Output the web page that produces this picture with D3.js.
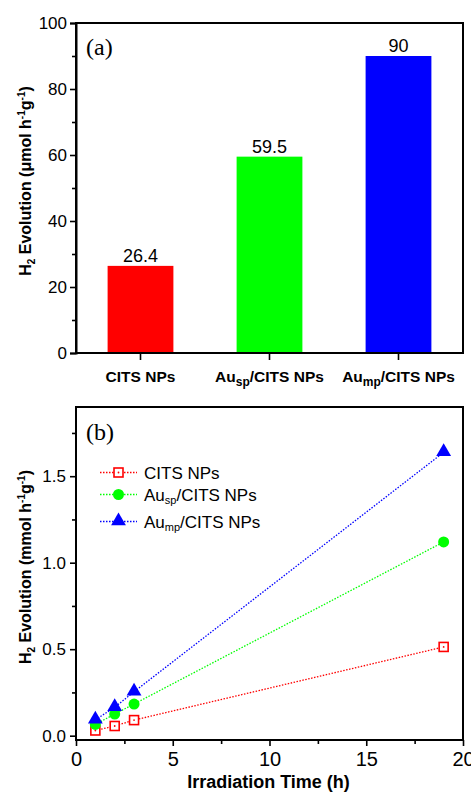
<!DOCTYPE html>
<html>
<head>
<meta charset="utf-8">
<title>H2 evolution</title>
<script src="https://cdn.jsdelivr.net/npm/d3@7"></script>
<style>
  body { margin: 0; background: #fff; }
  text { font-family: Arial, "Liberation Sans", sans-serif; fill: #000; }
  .domain { stroke: #000; stroke-width: 2px; }
  .tick line { stroke: #000; stroke-width: 1.6px; }
</style>
</head>
<body>
<script>
// ---- data ----
var categories = ["CITS NPs", "Au_sp/CITS NPs", "Au_mp/CITS NPs"];
var rates = [26.4, 59.5, 90];
var barColors = ["#ff0000", "#00ff00", "#0000ff"];

var times = [1, 2, 3, 19];
var citsVals = [0.03, 0.056, 0.09, 0.513];
var auSpVals = [0.065, 0.125, 0.183, 1.12];
var auMpVals = [0.092, 0.164, 0.254, 1.638];
var seriesNames = ["CITS NPs", "Au_sp/CITS NPs", "Au_mp/CITS NPs"];

var yTicksA = [0, 20, 40, 60, 80, 100];
var yMinorA = [10, 30, 50, 70, 90];
var xTicksB = [0, 5, 10, 15, 20];
var xMinorB = [2.5, 7.5, 12.5, 17.5];
var yTicksB = [0, 0.5, 1.0, 1.5];
var yMinorB = [0.25, 0.75, 1.25, 1.75];

var W = 471, H = 792;
var svg = d3.select("body").append("svg").attr("width", W).attr("height", H);

// writes "Au_sp/CITS NPs" style labels with a subscript part
function richLabel(sel, str, subSize) {
  var parts = str.split("_");
  if (parts.length == 1) { sel.text(str); return; }
  var m = parts[1].match(/^([a-z]+)(.*)$/);
  sel.append("tspan").text(parts[0]);
  sel.append("tspan").text(m[1]).style("font-size", subSize).attr("baseline-shift", "-30%");
  sel.append("tspan").text(m[2]);
}

// y title with H2 and h-1 g-1
function yTitle(g, x, y, unit) {
  var t = g.append("text")
    .attr("transform", "translate(" + x + "," + y + ") rotate(-90)")
    .attr("text-anchor", "middle")
    .style("font-size", "16px").style("font-weight", "bold");
  t.append("tspan").text("H");
  t.append("tspan").text("2").style("font-size", "10px").attr("baseline-shift", "-35%");
  t.append("tspan").text(" Evolution (" + unit + " h");
  t.append("tspan").text("-1").style("font-size", "10px").attr("baseline-shift", "60%");
  t.append("tspan").text("g");
  t.append("tspan").text("-1").style("font-size", "10px").attr("baseline-shift", "60%");
  t.append("tspan").text(")");
}

// ================= panel (a) =================
var a = { left: 76, right: 463, top: 23, bottom: 353 };

var xA = d3.scaleBand().domain(categories).range([a.left, a.right]).paddingInner(0.49).paddingOuter(0.245);
var yA = d3.scaleLinear().domain([0, 100]).range([a.bottom, a.top]);

svg.selectAll(".barA")
  .data(categories)
  .enter().append("rect")
  .attr("class", "barA")
  .attr("x", function (d) { return xA(d); })
  .attr("width", xA.bandwidth())
  .attr("y", function (d, i) { return yA(rates[i]); })
  .attr("height", function (d, i) { return yA(0) - yA(rates[i]); })
  .attr("fill", function (d, i) { return barColors[i]; });

svg.selectAll(".valA")
  .data(categories)
  .enter().append("text")
  .attr("x", function (d) { return xA(d) + xA.bandwidth() / 2; })
  .attr("y", function (d, i) { return yA(rates[i]) - 4; })
  .attr("text-anchor", "middle")
  .style("font-size", "18px")
  .text(function (d, i) { return rates[i]; });

// frame
svg.append("rect").attr("x", a.left).attr("y", a.top)
  .attr("width", a.right - a.left).attr("height", a.bottom - a.top)
  .attr("fill", "none").attr("stroke", "#000").attr("stroke-width", 2);

var yAxisA = svg.append("g").attr("transform", "translate(" + a.left + ",0)")
  .call(d3.axisLeft(yA).tickValues(yTicksA).tickSize(6).tickPadding(3));
yAxisA.selectAll("text").style("font-size", "17px");
svg.append("g").attr("transform", "translate(" + a.left + ",0)")
  .call(d3.axisLeft(yA).tickValues(yMinorA).tickSize(4).tickFormat(""))
  .select(".domain").remove();

var xAxisA = svg.append("g").attr("transform", "translate(0," + a.bottom + ")")
  .call(d3.axisBottom(xA).tickSize(7).tickFormat(""));
xAxisA.select(".domain").remove();

svg.selectAll(".catA")
  .data(categories)
  .enter().append("text")
  .attr("x", function (d) { return xA(d) + xA.bandwidth() / 2; })
  .attr("y", 382)
  .attr("text-anchor", "middle")
  .style("font-size", "15.5px").style("font-weight", "bold")
  .each(function (d) { richLabel(d3.select(this), d, "12px"); });

svg.append("text").attr("x", 86).attr("y", 55)
  .style("font-family", "'Liberation Serif', 'Times New Roman', serif")
  .style("font-size", "24px").text("(a)");

yTitle(svg, 31, 181, "\u03bcmol");

// ================= panel (b) =================
var b = { left: 76, right: 463, top: 407, bottom: 740 };

var xB = d3.scaleLinear().domain([0, 20]).range([b.left, b.right]);
var yB = d3.scaleLinear().domain([-0.025, 1.9]).range([b.bottom, b.top]);

svg.append("rect").attr("x", b.left).attr("y", b.top)
  .attr("width", b.right - b.left).attr("height", b.bottom - b.top)
  .attr("fill", "none").attr("stroke", "#000").attr("stroke-width", 2);

var yAxisB = svg.append("g").attr("transform", "translate(" + b.left + ",0)")
  .call(d3.axisLeft(yB).tickValues(yTicksB).tickSize(6).tickPadding(4).tickFormat(d3.format(".1f")));
yAxisB.select(".domain").remove();
yAxisB.selectAll("text").style("font-size", "17px");
svg.append("g").attr("transform", "translate(" + b.left + ",0)")
  .call(d3.axisLeft(yB).tickValues(yMinorB).tickSize(4).tickFormat(""))
  .select(".domain").remove();

var xAxisB = svg.append("g").attr("transform", "translate(0," + b.bottom + ")")
  .call(d3.axisBottom(xB).tickValues(xTicksB).tickSize(6).tickPadding(6));
xAxisB.select(".domain").remove();
xAxisB.selectAll("text").style("font-size", "20px");
svg.append("g").attr("transform", "translate(0," + b.bottom + ")")
  .call(d3.axisBottom(xB).tickValues(xMinorB).tickSize(4).tickFormat(""))
  .select(".domain").remove();

svg.append("text").attr("x", (b.left + b.right) / 2 - 1).attr("y", 788)
  .attr("text-anchor", "middle")
  .style("font-size", "18px").style("font-weight", "bold")
  .text("Irradiation Time (h)");

svg.append("text").attr("x", 86).attr("y", 440)
  .style("font-family", "'Liberation Serif', 'Times New Roman', serif")
  .style("font-size", "24px").text("(b)");

yTitle(svg, 31, 567, "mmol");

var series = [citsVals, auSpVals, auMpVals];
var line = d3.line()
  .x(function (d, i) { return xB(times[i]); })
  .y(function (d) { return yB(d); });

series.forEach(function (vals, k) {
  svg.append("path").datum(vals)
    .attr("d", line)
    .attr("fill", "none")
    .attr("stroke", barColors[k])
    .attr("stroke-width", 1.3)
    .attr("stroke-dasharray", "1.5,1.5");
});

var tri = d3.symbol().type(d3.symbolTriangle).size(95);

function marker(g, k, cx, cy) {
  if (k == 0) {
    g.append("rect").attr("x", cx - 4.5).attr("y", cy - 4.5).attr("width", 9).attr("height", 9)
      .attr("fill", "#fff").attr("stroke", barColors[0]).attr("stroke-width", 1.6);
    g.append("circle").attr("cx", cx).attr("cy", cy).attr("r", 0.9).attr("fill", barColors[0]);
  } else if (k == 1) {
    g.append("circle").attr("cx", cx).attr("cy", cy).attr("r", 5.5).attr("fill", barColors[1]);
  } else {
    g.append("path").attr("d", tri).attr("transform", "translate(" + cx + "," + (cy - 0.5) + ")")
      .attr("fill", barColors[2]);
  }
}

series.forEach(function (vals, k) {
  var g = svg.append("g");
  vals.forEach(function (v, i) { marker(g, k, xB(times[i]), yB(v)); });
});

// legend
var legRows = [472.5, 494.5, 521.5];
seriesNames.forEach(function (name, k) {
  var g = svg.append("g");
  var ly = legRows[k];
  g.append("line").attr("x1", 100).attr("x2", 137).attr("y1", ly).attr("y2", ly)
    .attr("stroke", barColors[k]).attr("stroke-width", 1.3).attr("stroke-dasharray", "1.5,1.5");
  marker(g, k, 118.5, ly);
  var t = g.append("text").attr("x", 144).attr("y", ly + 6).style("font-size", "17px");
  richLabel(t, name, "11px");
});
</script>
</body>
</html>
